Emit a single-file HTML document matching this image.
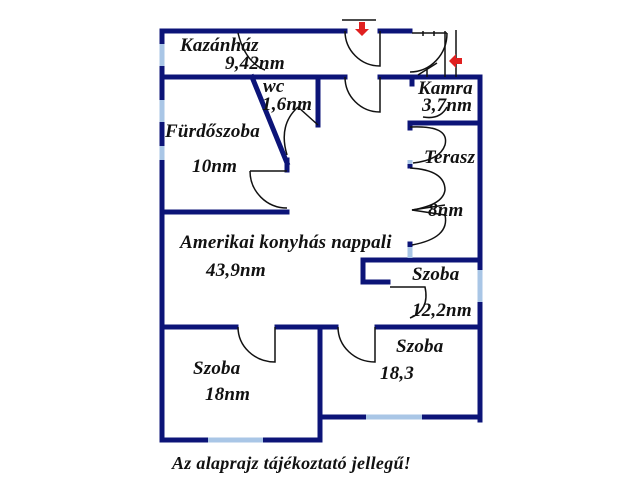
<!DOCTYPE html>
<html><head><style>
body{margin:0;background:#fff;width:640px;height:480px;overflow:hidden}
svg{display:block}
text{font-family:"Liberation Serif",serif;font-weight:bold;font-style:italic;font-size:19px;letter-spacing:0.2px;fill:#111}
</style></head><body>
<svg width="640" height="480" viewBox="0 0 640 480">
<g stroke="#0c1478" stroke-width="5" fill="none" stroke-linecap="square">
<line x1="162" y1="31" x2="162" y2="440"/>
<line x1="162" y1="31" x2="345" y2="31"/>
<line x1="380" y1="31" x2="410" y2="31"/>
<line x1="162" y1="77" x2="345" y2="77"/>
<line x1="380" y1="77" x2="480" y2="77"/>
<line x1="480" y1="77" x2="480" y2="420"/>
<line x1="318" y1="77" x2="318" y2="125"/>
<line x1="252" y1="77" x2="287" y2="163"/>
<line x1="287" y1="160" x2="287" y2="170"/>
<line x1="162" y1="212" x2="287" y2="212"/>
<line x1="412" y1="78" x2="412" y2="84"/>
<line x1="410" y1="123" x2="480" y2="123"/>
<line x1="410" y1="123" x2="410" y2="128"/>
<line x1="410" y1="163" x2="410" y2="166"/>
<line x1="363" y1="260" x2="480" y2="260"/>
<line x1="363" y1="260" x2="363" y2="282"/>
<line x1="363" y1="282" x2="388" y2="282"/>
<line x1="410" y1="244" x2="410" y2="246"/>
<line x1="162" y1="327" x2="236" y2="327"/>
<line x1="277" y1="327" x2="336" y2="327"/>
<line x1="377" y1="327" x2="480" y2="327"/>
<line x1="320" y1="327" x2="320" y2="440"/>
<line x1="320" y1="417" x2="480" y2="417"/>
<line x1="162" y1="440" x2="320" y2="440"/>
</g>
<g stroke="#a9c6e6" stroke-width="5">
<line x1="162" y1="44" x2="162" y2="66"/>
<line x1="162" y1="100" x2="162" y2="122"/>
<line x1="162" y1="146" x2="162" y2="160"/>
<line x1="480" y1="270" x2="480" y2="302"/>
<line x1="366" y1="417" x2="422" y2="417"/>
<line x1="208" y1="440" x2="263" y2="440"/>
<line x1="410" y1="247" x2="410" y2="258"/>
<line x1="410" y1="160" x2="410" y2="164"/>
</g>
<g stroke="#111" stroke-width="1.5" fill="none">
<line x1="342" y1="20" x2="376" y2="20"/>
<path d="M345 31 A35 35 0 0 0 380 66 L380 31"/>
<path d="M345 77 A35 35 0 0 0 380 112 L380 77"/>
<path d="M447 33 A37 39 0 0 1 410 72"/>
<line x1="412" y1="33" x2="447" y2="33"/>
<line x1="423" y1="31" x2="423" y2="36"/><line x1="434" y1="31" x2="434" y2="36"/><line x1="445" y1="31" x2="445" y2="77"/>
<line x1="456" y1="30" x2="456" y2="77"/>
<path d="M437 63 L418 75 M427 68 L427 77"/>
<path d="M238 33 Q245 62 265 70"/>
<path d="M298 107 Q278 125 287 155"/>
<line x1="298" y1="107" x2="318" y2="125"/>
<path d="M447 107 Q440 120 423 117"/>
<path d="M250 171 A37 37 0 0 0 287 208"/>
<line x1="250" y1="171" x2="287" y2="171"/>
<path d="M410 127 Q450 125 445 145 Q440 160 413 163"/>
<path d="M410 168 Q445 170 445 190 Q443 205 412 210 L445 215"/>
<path d="M412 210 L445 205"/>
<path d="M445 215 Q450 238 412 245"/>
<path d="M390 287 L425 287 Q430 310 410 318"/>
<path d="M238 327 A37 35 0 0 0 275 362 L275 327"/>
<path d="M338 327 A37 35 0 0 0 375 362 L375 327"/>
</g>
<path d="M359 22 v7 h-4 l7 7 l7 -7 h-4 v-7z" fill="#e02020"/>
<path d="M462 58 h-6 v-4 l-7 7 l7 7 v-4 h6z" fill="#e02020"/>
<text x="180" y="51">Kazánház</text>
<text x="225" y="69">9,42nm</text>
<text x="263" y="92">wc</text>
<text x="262" y="110">1,6nm</text>
<text x="418" y="94">Kamra</text>
<text x="422" y="111">3,7nm</text>
<text x="165" y="137">Fürdőszoba</text>
<text x="192" y="172">10nm</text>
<text x="424" y="163">Terasz</text>
<text x="428" y="216">8nm</text>
<text x="180" y="248">Amerikai konyhás nappali</text>
<text x="206" y="276">43,9nm</text>
<text x="412" y="280">Szoba</text>
<text x="412" y="316">12,2nm</text>
<text x="396" y="352">Szoba</text>
<text x="380" y="379">18,3</text>
<text x="193" y="374">Szoba</text>
<text x="205" y="400">18nm</text>
<text x="172" y="469" style="font-size:18px;letter-spacing:0.3px">Az alaprajz tájékoztató jellegű!</text>
</svg>
</body></html>
